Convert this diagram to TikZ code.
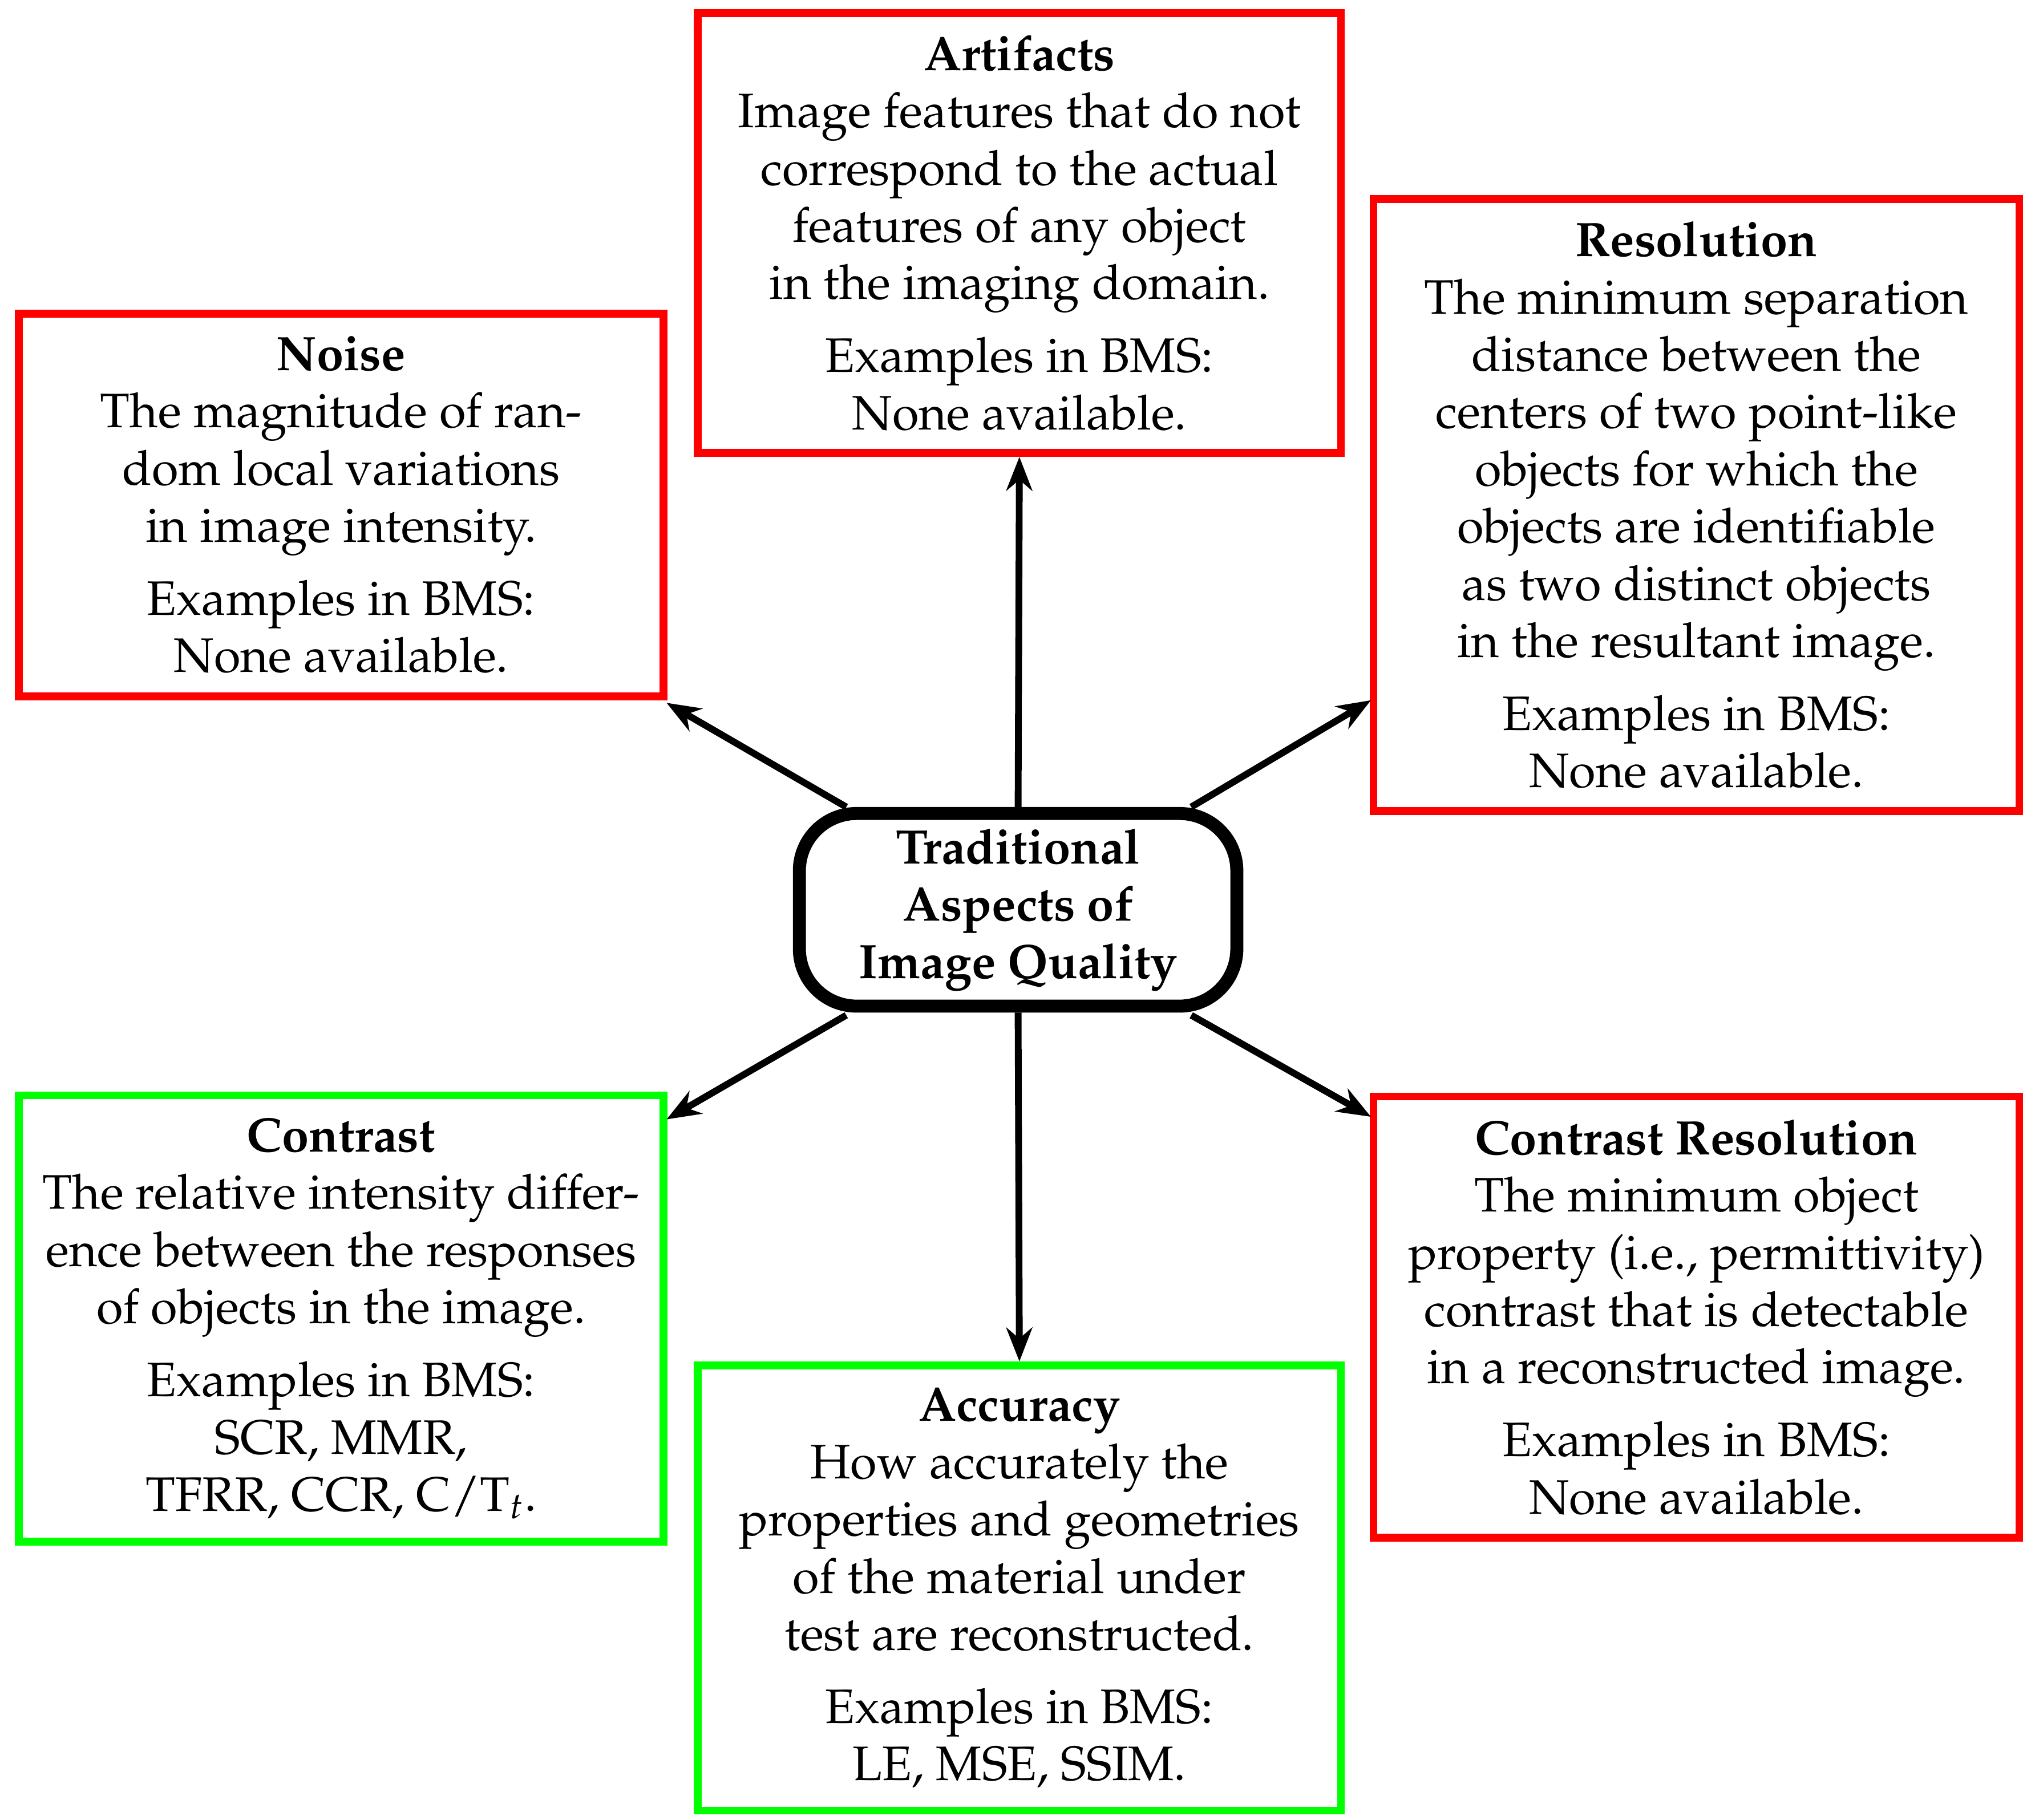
\documentclass[tikz,border=0pt]{standalone}
\usepackage[T1]{fontenc}
\usepackage{mathpazo}
\usetikzlibrary{arrows.meta}
\begin{document}
\begin{tikzpicture}[x=0.5pt,y=-0.5pt,
  box/.style={draw,line width=3pt,inner sep=0pt,align=center,font=\fontsize{18.6}{22}\selectfont},
  red box/.style={box,draw=red},
  green box/.style={box,draw={rgb,255:red,0;green,255;blue,0}},
  arr/.style={line width=2.6pt,-{Stealth[length=13pt,width=10pt]}}]
\useasboundingbox (0,0) rectangle (1560,1398);
\node[red box,minimum width=494*0.5pt,minimum height=338*0.5pt] (art) at (783,179)
 {\textbf{Artifacts}\\Image features that do not\\correspond to the actual\\features of any object\\in the imaging domain.\\[6pt]Examples in BMS:\\None available.};
\node[red box,minimum width=496*0.5pt,minimum height=470*0.5pt] (res) at (1303,388)
 {\textbf{Resolution}\\The minimum separation\\distance between the\\centers of two point-like\\objects for which the\\objects are identifiable\\as two distinct objects\\in the resultant image.\\[6pt]Examples in BMS:\\None available.};
\node[red box,minimum width=495*0.5pt,minimum height=294*0.5pt] (noise) at (262,388)
 {\textbf{Noise}\\The magnitude of ran-\\dom local variations\\in image intensity.\\[6pt]Examples in BMS:\\None available.};
\node[green box,minimum width=495*0.5pt,minimum height=343*0.5pt] (con) at (262,1013)
 {\textbf{Contrast}\\The relative intensity differ-\\ence between the responses\\of objects in the image.\\[6pt]Examples in BMS:\\SCR, MMR,\\TFRR, CCR, C/T$_t$.};
\node[green box,minimum width=494*0.5pt,minimum height=342*0.5pt] (acc) at (783,1220)
 {\textbf{Accuracy}\\How accurately the\\properties and geometries\\of the material under\\test are reconstructed.\\[6pt]Examples in BMS:\\LE, MSE, SSIM.};
\node[red box,minimum width=496*0.5pt,minimum height=339*0.5pt] (cres) at (1303,1012)
 {\textbf{Contrast Resolution}\\The minimum object\\property (i.e., permittivity)\\contrast that is detectable\\in a reconstructed image.\\[6pt]Examples in BMS:\\None available.};
\node[draw,line width=5pt,rounded corners=22pt,minimum width=336*0.5pt,minimum height=148*0.5pt,align=center,font=\fontsize{18.6}{22}\selectfont\bfseries] (c) at (782,699)
 {Traditional\\Aspects of\\Image Quality};
\coordinate (cnw) at (650,620);
\coordinate (cne) at (915,620);
\coordinate (csw) at (650,780);
\coordinate (cse) at (915,780);
\coordinate (tn) at (512,540);
\coordinate (tr) at (1053,538);
\coordinate (tc) at (512,860);
\coordinate (tcr) at (1053,858);
\draw[arr] (c.north) -- (art.south);
\draw[arr] (c.south) -- (acc.north);
\draw[arr] (cnw) -- (tn);
\draw[arr] (cne) -- (tr);
\draw[arr] (csw) -- (tc);
\draw[arr] (cse) -- (tcr);
\end{tikzpicture}
\end{document}
